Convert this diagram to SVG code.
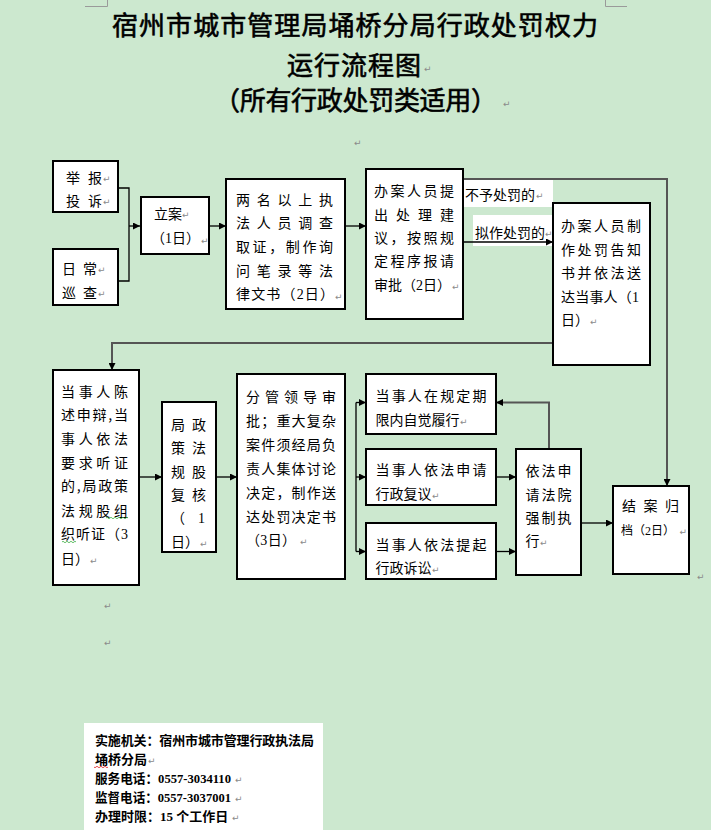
<svg xmlns="http://www.w3.org/2000/svg" width="711" height="830" viewBox="0 0 711 830">
<defs>
<style>
.bx{fill:#fff;stroke:#000;stroke-width:2}
.t{font-family:"Noto Sans CJK SC","Noto Sans",sans-serif;font-size:14px;fill:#000}
.n{font-family:"Liberation Serif",serif}
.pm{font-family:"DejaVu Sans",sans-serif;font-size:9px;fill:#8a8a8a}
.ln{fill:none;stroke:#000;stroke-width:1.3}
.lg{fill:none;stroke:#555;stroke-width:2}
.ttl{font-family:"Noto Sans CJK SC",sans-serif;font-size:26px;font-weight:normal;fill:#000;stroke:#000;stroke-width:0.6}
.info{font-family:"Noto Sans CJK SC",sans-serif;font-size:13px;font-weight:bold;fill:#000}
.ni{font-family:"Liberation Serif",serif;font-weight:bold}
.lab{fill:#fff}
.cm{fill:none;stroke:#9a9a9a;stroke-width:1}
</style>
<marker id="ah" viewBox="0 0 10 10" refX="10" refY="5" markerWidth="9" markerHeight="7" markerUnits="userSpaceOnUse" orient="auto"><path d="M0,0 L10,5 L0,10 z" fill="#000"/></marker>
</defs>
<rect x="0" y="0" width="711" height="830" fill="#cce8cf"/>
<path class="cm" d="M85 6.5 H107.5 V0 M605.5 0 V6.5 H627"/>

<g id="title">
<text class="ttl" x="112" y="35" textLength="486" lengthAdjust="spacing">宿州市城市管理局埇桥分局行政处罚权力</text>
<text class="ttl" x="287" y="75" textLength="134" lengthAdjust="spacing">运行流程图</text>
<text class="pm" x="424" y="72">↵</text>
<text class="ttl" x="214" y="110" textLength="283" lengthAdjust="spacing">（所有行政处罚类适用）</text>
<text class="pm" x="503" y="107">↵</text>
</g>

<text class="pm" x="354" y="146">↵</text>
<text class="pm" x="104" y="609">↵</text>
<text class="pm" x="104" y="646">↵</text>
<text class="pm" x="697" y="580">↵</text>

<g id="connectors">
<path class="ln" d="M118 188 H129 V281 H118"/>
<path class="ln" d="M129 226 H140" marker-end="url(#ah)"/>
<path class="ln" d="M209 226 H226" marker-end="url(#ah)"/>
<path class="ln" d="M345 226 H366" marker-end="url(#ah)"/>
<path class="lg" d="M463 179 H667 V486" marker-end="url(#ah)"/>
<rect class="lab" x="463" y="180" width="90" height="27"/>
<text class="t" x="465" y="200">不予处罚的</text>
<text class="pm" x="536" y="199">↵</text>
<rect class="lab" x="473" y="215" width="80" height="31"/>
<text class="t" x="475" y="238">拟作处罚的</text>
<text class="pm" x="545" y="237">↵</text>
<path class="ln" d="M464 242 H553" marker-end="url(#ah)"/>
<path class="lg" d="M553 343 H112 V370" marker-end="url(#ah)"/>
<path class="ln" d="M139 477 H162" marker-end="url(#ah)"/>
<path class="ln" d="M216 477 H237" marker-end="url(#ah)"/>
<path class="ln" d="M356 402.5 V551.5"/>
<path class="ln" d="M356 402.5 H366" marker-end="url(#ah)"/>
<path class="ln" d="M356 477 H366" marker-end="url(#ah)"/>
<path class="ln" d="M356 551.5 H366" marker-end="url(#ah)"/>
<path class="ln" d="M496 477 H516" marker-end="url(#ah)"/>
<path class="ln" d="M496 551.5 H516" marker-end="url(#ah)"/>
<path class="lg" d="M549 449 V402.5 H496" marker-end="url(#ah)"/>
<path class="ln" d="M581 523 H613" marker-end="url(#ah)"/>
</g>

<g id="node-jubao">
<rect class="bx" x="53" y="161" width="65" height="51"/>
<text class="t" x="66" y="183" textLength="36" lengthAdjust="spacing">举报</text>
<text class="pm" x="103" y="182">↵</text>
<text class="t" x="66" y="206" textLength="36" lengthAdjust="spacing">投诉</text>
<text class="pm" x="103" y="205">↵</text>
</g>

<g id="node-richang">
<rect class="bx" x="53" y="249" width="65" height="56"/>
<text class="t" x="62" y="274" textLength="35" lengthAdjust="spacing">日常</text>
<text class="pm" x="98" y="273">↵</text>
<text class="t" x="62" y="298" textLength="35" lengthAdjust="spacing">巡查</text>
<text class="pm" x="98" y="297">↵</text>
</g>

<g id="node-lian">
<rect class="bx" x="141" y="197" width="68" height="57"/>
<text class="t" x="154" y="219">立案</text>
<text class="pm" x="182" y="218">↵</text>
<text class="t" x="151" y="243" textLength="49" lengthAdjust="spacing">（<tspan class="n">1</tspan>日）</text>
<text class="pm" x="201" y="244">↵</text>
</g>

<g id="node-diaocha">
<rect class="bx" x="226" y="179" width="119" height="130"/>
<text class="t" x="236" y="205" textLength="97" lengthAdjust="spacing">两名以上执</text>
<text class="t" x="236" y="228" textLength="97" lengthAdjust="spacing">法人员调查</text>
<text class="t" x="236" y="252" textLength="97" lengthAdjust="spacing">取证，制作询</text>
<text class="t" x="236" y="276" textLength="97" lengthAdjust="spacing">问笔录等法</text>
<text class="t" x="236" y="299" textLength="98" lengthAdjust="spacing">律文书（<tspan class="n">2</tspan>日）</text>
<text class="pm" x="335" y="300">↵</text>
</g>

<g id="node-jianyi">
<rect class="bx" x="366" y="169" width="97" height="150"/>
<text class="t" x="374" y="196" textLength="80" lengthAdjust="spacing">办案人员提</text>
<text class="t" x="374" y="220" textLength="80" lengthAdjust="spacing">出处理建</text>
<text class="t" x="374" y="243" textLength="80" lengthAdjust="spacing">议，按照规</text>
<text class="t" x="374" y="266" textLength="80" lengthAdjust="spacing">定程序报请</text>
<text class="t" x="374" y="290" textLength="77" lengthAdjust="spacing">审批（<tspan class="n">2</tspan>日）</text>
<text class="pm" x="452" y="290">↵</text>
</g>

<g id="node-gaozhi">
<rect class="bx" x="553" y="203" width="97" height="162"/>
<text class="t" x="561" y="231" textLength="80" lengthAdjust="spacing">办案人员制</text>
<text class="t" x="561" y="254.5" textLength="80" lengthAdjust="spacing">作处罚告知</text>
<text class="t" x="561" y="278" textLength="80" lengthAdjust="spacing">书并依法送</text>
<text class="t" x="561" y="301.5" textLength="78" lengthAdjust="spacing">达当事人（<tspan class="n">1</tspan></text>
<text class="t" x="561" y="325">日）</text>
<text class="pm" x="590" y="325">↵</text>
</g>

<g id="node-chenshu">
<rect class="bx" x="53" y="370" width="86" height="215"/>
<text class="t" x="61" y="397" textLength="67" lengthAdjust="spacing">当事人陈</text>
<text class="t" x="61" y="420" textLength="67" lengthAdjust="spacing">述申辩,当</text>
<text class="t" x="61" y="444" textLength="67" lengthAdjust="spacing">事人依法</text>
<text class="t" x="61" y="468" textLength="67" lengthAdjust="spacing">要求听证</text>
<text class="t" x="61" y="491" textLength="67" lengthAdjust="spacing">的,局政策</text>
<text class="t" x="61" y="516" textLength="67" lengthAdjust="spacing">法规股组</text>
<text class="t" x="61" y="539" textLength="67" lengthAdjust="spacing">织听证（<tspan class="n">3</tspan></text>
<text class="t" x="61" y="564">日）</text>
<text class="pm" x="90" y="564">↵</text>
<path d="M106 518 q1 -1.5 2 0 t2 0 t2 0 t2 0 t2 0 t2 0 t2 0 t2 0 t2 0 t2 0 t2 0" fill="none" stroke="#3cb043" stroke-width="0.8"/>
<path d="M62 542 q1 -1.5 2 0 t2 0 t2 0 t2 0 t2 0 t2 0 t2 0" fill="none" stroke="#3cb043" stroke-width="0.8"/>
</g>

<g id="node-fuhe">
<rect class="bx" x="162" y="402" width="54" height="150"/>
<text class="t" x="171" y="429.5" textLength="35" lengthAdjust="spacing">局政</text>
<text class="t" x="171" y="453" textLength="35" lengthAdjust="spacing">策法</text>
<text class="t" x="171" y="476.5" textLength="35" lengthAdjust="spacing">规股</text>
<text class="t" x="171" y="500" textLength="35" lengthAdjust="spacing">复核</text>
<text class="t" x="171" y="523" textLength="34" lengthAdjust="spacing">（<tspan class="n">1</tspan></text>
<text class="t" x="171" y="546.5">日）</text>
<text class="pm" x="200" y="547">↵</text>
</g>

<g id="node-shenpi">
<rect class="bx" x="237" y="374" width="108" height="205"/>
<text class="t" x="246" y="402" textLength="90" lengthAdjust="spacing">分管领导审</text>
<text class="t" x="246" y="426" textLength="90" lengthAdjust="spacing">批；重大复杂</text>
<text class="t" x="246" y="449.5" textLength="90" lengthAdjust="spacing">案件须经局负</text>
<text class="t" x="246" y="473.5" textLength="90" lengthAdjust="spacing">责人集体讨论</text>
<text class="t" x="246" y="497.5" textLength="90" lengthAdjust="spacing">决定，制作送</text>
<text class="t" x="246" y="521.5" textLength="90" lengthAdjust="spacing">达处罚决定书</text>
<text class="t" x="246" y="544.5" textLength="50" lengthAdjust="spacing">（<tspan class="n">3</tspan>日）</text>
<text class="pm" x="300" y="545">↵</text>
</g>

<g id="node-lvxing">
<rect class="bx" x="366" y="374" width="130" height="60"/>
<text class="t" x="375.5" y="401" textLength="111" lengthAdjust="spacing">当事人在规定期</text>
<text class="t" x="375.5" y="425">限内自觉履行</text>
<text class="pm" x="460" y="425">↵</text>
</g>

<g id="node-fuyi">
<rect class="bx" x="366" y="449" width="130" height="56"/>
<text class="t" x="375.5" y="475" textLength="111" lengthAdjust="spacing">当事人依法申请</text>
<text class="t" x="375.5" y="498.5">行政复议</text>
<text class="pm" x="432" y="498.5">↵</text>
</g>

<g id="node-susong">
<rect class="bx" x="366" y="523" width="130" height="56"/>
<text class="t" x="375.5" y="550" textLength="111" lengthAdjust="spacing">当事人依法提起</text>
<text class="t" x="375.5" y="573">行政诉讼</text>
<text class="pm" x="432" y="573">↵</text>
</g>

<g id="node-qiangzhi">
<rect class="bx" x="516" y="449" width="65" height="126"/>
<text class="t" x="525.5" y="476" textLength="46" lengthAdjust="spacing">依法申</text>
<text class="t" x="525.5" y="500" textLength="46" lengthAdjust="spacing">请法院</text>
<text class="t" x="525.5" y="523" textLength="46" lengthAdjust="spacing">强制执</text>
<text class="t" x="525.5" y="546">行</text>
<text class="pm" x="540" y="546">↵</text>
</g>

<g id="node-jiean">
<rect class="bx" x="613" y="486" width="76" height="88"/>
<text class="t" x="622" y="511" textLength="57" lengthAdjust="spacing">结案归</text>
<text class="t" x="621" y="534.5" style="font-size:12px">档（<tspan class="n">2</tspan>日）</text>
<text class="pm" x="679.5" y="535">↵</text>
</g>

<g id="info">
<rect x="84" y="723" width="239" height="107" fill="#fff"/>
<text class="info" x="95" y="744.5" textLength="219" lengthAdjust="spacing">实施机关：宿州市城市管理行政执法局</text>
<text class="info" x="95" y="764">埇桥分局</text>
<text class="pm" x="148" y="764">↵</text>
<path d="M94 767 q1 1.5 2 0 t2 0 t2 0 t2 0 t2 0 t2 0 t2 0" fill="none" stroke="#e02020" stroke-width="0.8"/>
<text class="info" x="95" y="783" textLength="136" lengthAdjust="spacingAndGlyphs">服务电话：<tspan class="ni">0557-3034110</tspan></text>
<text class="pm" x="235" y="783">↵</text>
<text class="info" x="95" y="802" textLength="136" lengthAdjust="spacingAndGlyphs">监督电话：<tspan class="ni">0557-3037001</tspan></text>
<text class="pm" x="235" y="802">↵</text>
<text class="info" x="95" y="820.5">办理时限：<tspan class="ni">15 </tspan>个工作日</text>
<text class="pm" x="232" y="820.5">↵</text>
</g>
</svg>
